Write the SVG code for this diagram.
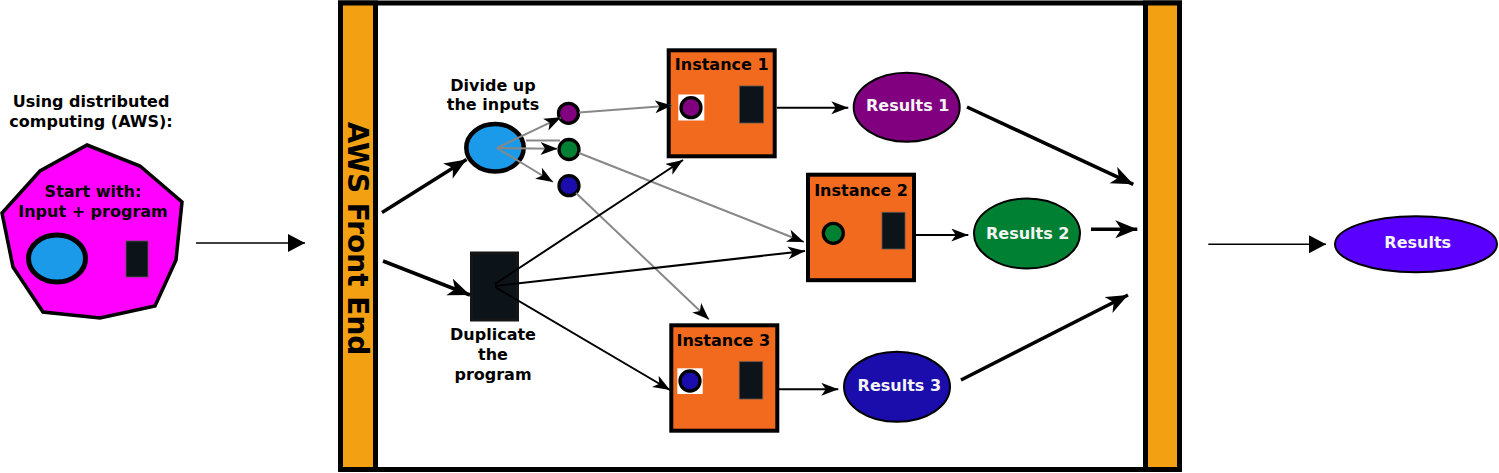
<svg xmlns="http://www.w3.org/2000/svg" width="1499" height="473" viewBox="0 0 1499 473">
<style>
text{font-family:"DejaVu Sans","Liberation Sans",sans-serif;font-weight:bold;font-size:16px;text-anchor:middle;fill:#000}
.wt{fill:#f4f4f4}
.bar{fill:#f3a013;stroke:#000;stroke-width:5}
.inst{fill:#f26a1e;stroke:#000;stroke-width:4}
.prog{fill:#0d1419;stroke:#555;stroke-width:0.8}
.res{stroke:#000;stroke-width:2}
.dot{stroke:#000;stroke-width:3.3}
.thick{stroke:#000;stroke-width:3.5;fill:none;marker-end:url(#hk)}
.blk{stroke:#000;stroke-width:2;fill:none;marker-end:url(#hm)}
.gry{stroke:#888;stroke-width:2;fill:none;marker-end:url(#hm)}
.thin{stroke:#000;stroke-width:1.6;fill:none;marker-end:url(#ht)}
</style>
<defs>
<marker id="hk" markerUnits="userSpaceOnUse" markerWidth="24" markerHeight="20" refX="22" refY="9" orient="auto"><path d="M0,0 L22,9 L0,18 L6,9 z" fill="#000"/></marker>
<marker id="hm" markerUnits="userSpaceOnUse" markerWidth="18" markerHeight="14" refX="17" refY="6.5" orient="auto"><path d="M0,0 L17,6.5 L0,13 L4.5,6.5 z" fill="#000"/></marker>
<marker id="ht" markerUnits="userSpaceOnUse" markerWidth="18" markerHeight="20" refX="17" refY="9" orient="auto"><path d="M0,0 L17,9 L0,18 z" fill="#000"/></marker>
</defs>
<rect width="1499" height="473" fill="#fff"/>

<g id="frame">
<rect x="340.5" y="3" width="839" height="466.5" fill="#fff" stroke="#000" stroke-width="5"/>
<rect class="bar" x="340.5" y="3" width="35" height="466.5"/>
<rect class="bar" x="1145.5" y="3" width="34" height="466.5"/>
<text transform="translate(348,238.5) rotate(90)" style="font-size:28px">AWS Front End</text>
</g>

<g id="start">
<text x="91" y="106.5">Using distributed</text>
<text x="91" y="126.5">computing (AWS):</text>
<polygon points="87,145 140,166 182,202 176,260 155,306 100,318 43,312 13,267 2,213 40,171" fill="#ff00ff" stroke="#000" stroke-width="3.5" stroke-linejoin="miter"/>
<text x="93" y="196.5">Start with:</text>
<text x="93" y="216.5">Input + program</text>
<ellipse cx="57" cy="258.5" rx="28.5" ry="23.5" fill="#1a9ae8" stroke="#000" stroke-width="5"/>
<rect class="prog" x="126" y="241" width="22" height="36"/>
</g>

<g id="divide">
<text x="493" y="90.5">Divide up</text>
<text x="493" y="110">the inputs</text>
<ellipse cx="495" cy="147.7" rx="28.7" ry="23.7" fill="#1a9ae8" stroke="#000" stroke-width="4.5"/>
</g>

<g id="dots">
<circle class="dot" cx="568.5" cy="113.3" r="10" fill="#800080"/>
<circle class="dot" cx="569" cy="149.5" r="10" fill="#008033"/>
<circle class="dot" cx="569" cy="185.7" r="10" fill="#1a0dab"/>
</g>

<g id="duplicate">
<rect x="471.5" y="253" width="46" height="67" fill="#0d1419" stroke="#161616" stroke-width="3"/>
<text x="493" y="340">Duplicate</text>
<text x="493" y="360">the</text>
<text x="493" y="380">program</text>
</g>

<g id="instance1">
<rect class="inst" x="668.7" y="50.3" width="106" height="106"/>
<text x="721.7" y="70">Instance 1</text>
<rect x="678.3" y="94.5" width="26" height="26" fill="#fff"/>
<circle class="dot" cx="691" cy="107.7" r="10" fill="#800080"/>
<rect class="prog" x="739.5" y="86" width="24" height="37"/>
</g>

<g id="instance2">
<rect class="inst" x="808" y="174.7" width="106" height="105.5"/>
<text x="861" y="196">Instance 2</text>
<circle class="dot" cx="833.3" cy="233.3" r="10" fill="#008033"/>
<rect class="prog" x="882" y="212.3" width="23" height="36.7"/>
</g>

<g id="instance3">
<rect class="inst" x="671.3" y="325.3" width="106" height="105.4"/>
<text x="723.3" y="346">Instance 3</text>
<rect x="677.3" y="368.3" width="25.4" height="25.7" fill="#fff"/>
<circle class="dot" cx="690" cy="381" r="10" fill="#1a0dab"/>
<rect class="prog" x="739.3" y="361.7" width="23.4" height="37.3"/>
</g>

<g id="results1">
<ellipse class="res" cx="906.7" cy="107.2" rx="53" ry="34.5" fill="#800080"/>
<text class="wt" x="907.7" y="110.7">Results 1</text>
</g>
<g id="results2">
<ellipse class="res" cx="1027" cy="233.5" rx="53" ry="35" fill="#008033"/>
<text class="wt" x="1027.7" y="239">Results 2</text>
</g>
<g id="results3">
<ellipse class="res" cx="897" cy="386.8" rx="53" ry="35" fill="#1a0dab"/>
<text class="wt" x="899.3" y="390.7">Results 3</text>
</g>
<g id="results">
<ellipse class="res" cx="1416" cy="244.2" rx="81" ry="28" fill="#5a00ff"/>
<text class="wt" x="1417.7" y="248.3">Results</text>
</g>

<g id="connectors">
<line class="thin" x1="196" y1="243" x2="305" y2="243"/>
<line class="thick" x1="382" y1="212.5" x2="466.5" y2="159.5"/>
<line class="thick" x1="383" y1="261" x2="470" y2="295"/>
<line class="gry" x1="497" y1="148" x2="561" y2="117.3"/>
<line class="gry" x1="497" y1="148" x2="557.5" y2="148.7"/>
<line x1="526" y1="140.5" x2="560" y2="140.5" stroke="#888" stroke-width="2"/>
<line class="gry" x1="497" y1="148" x2="553" y2="182"/>
<line class="gry" x1="579" y1="112.5" x2="672" y2="105.5"/>
<line class="gry" x1="579" y1="153" x2="804" y2="242"/>
<line class="gry" x1="576" y1="193" x2="709" y2="319.5"/>
<line class="blk" x1="495" y1="284" x2="683" y2="160"/>
<line class="blk" x1="495" y1="286" x2="805" y2="251"/>
<line class="blk" x1="495" y1="287" x2="670" y2="390"/>
<line class="blk" x1="777" y1="107.7" x2="848.3" y2="107.7"/>
<line class="blk" x1="916" y1="235" x2="968.3" y2="235"/>
<line class="blk" x1="779" y1="389.3" x2="838.3" y2="389.3"/>
<line class="thick" x1="967" y1="107" x2="1133.3" y2="184.3"/>
<line class="thick" x1="1091" y1="229.2" x2="1137.3" y2="229.2"/>
<line class="thick" x1="961" y1="380" x2="1128" y2="295"/>
<line class="thin" x1="1208.3" y1="244.3" x2="1326" y2="244.3"/>
</g>
</svg>
